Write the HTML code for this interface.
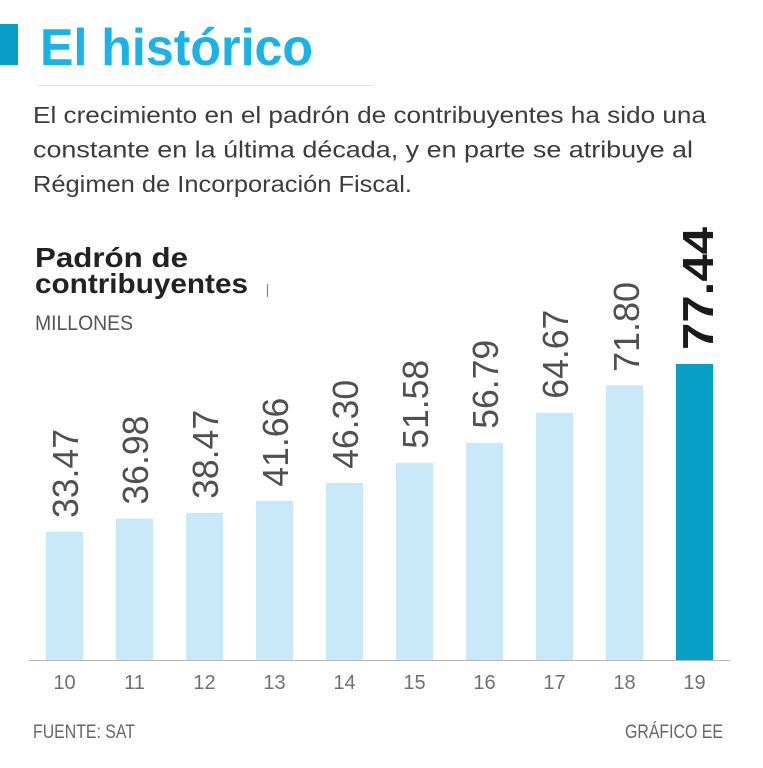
<!DOCTYPE html>
<html><head><meta charset="utf-8"><style>
html,body{margin:0;padding:0;background:#fff;}
svg{display:block;}
text{font-family:"Liberation Sans",sans-serif;}
</style></head><body>
<svg width="763" height="768" viewBox="0 0 763 768" xmlns="http://www.w3.org/2000/svg">
<rect x="0" y="0" width="763" height="768" fill="#fff"/>
<rect x="0" y="24" width="18" height="41" fill="#0a9ec6"/>
<text x="40" y="65" font-size="52" font-weight="bold" fill="#1bb2e8" textLength="273" lengthAdjust="spacingAndGlyphs">El histórico</text>
<line x1="38" y1="85.5" x2="373" y2="85.5" stroke="#cfeaf3" stroke-width="1"/>
<g fill="#3c3c3c" font-size="23">
<text x="33" y="123" textLength="673" lengthAdjust="spacingAndGlyphs">El crecimiento en el padrón de contribuyentes ha sido una</text>
<text x="33" y="157.5" textLength="660" lengthAdjust="spacingAndGlyphs">constante en la última década, y en parte se atribuye al</text>
<text x="33" y="192" textLength="379" lengthAdjust="spacingAndGlyphs">Régimen de Incorporación Fiscal.</text>
</g>
<text x="35" y="267" font-size="28" font-weight="bold" fill="#222" textLength="153" lengthAdjust="spacingAndGlyphs">Padrón de</text>
<text x="35" y="293" font-size="28" font-weight="bold" fill="#222" textLength="213" lengthAdjust="spacingAndGlyphs">contribuyentes</text>
<line x1="267.5" y1="284" x2="267.5" y2="297" stroke="#888" stroke-width="1.2"/>
<text x="35" y="330" font-size="21" fill="#555" textLength="98" lengthAdjust="spacingAndGlyphs">MILLONES</text>

<g fill="#c9e8f8">
<rect x="46" y="532" width="37" height="128"/>
<rect x="116" y="518.6" width="37" height="141.4"/>
<rect x="186" y="512.9" width="37" height="147.1"/>
<rect x="256" y="500.7" width="37" height="159.3"/>
<rect x="326" y="482.9" width="37" height="177.1"/>
<rect x="396" y="462.8" width="37" height="197.2"/>
<rect x="466" y="442.8" width="37" height="217.2"/>
<rect x="536" y="412.7" width="37" height="247.3"/>
<rect x="606" y="385.4" width="37" height="274.6"/>
</g>
<rect x="676" y="364" width="37" height="296" fill="#099ec5"/>
<line x1="29" y1="660.5" x2="730" y2="660.5" stroke="#b8b8b8" stroke-width="1"/>

<g fill="#505050" font-size="36">
<text transform="translate(78,518) rotate(-90)" textLength="89" lengthAdjust="spacingAndGlyphs">33.47</text>
<text transform="translate(148,504.6) rotate(-90)" textLength="89" lengthAdjust="spacingAndGlyphs">36.98</text>
<text transform="translate(218,498.9) rotate(-90)" textLength="89" lengthAdjust="spacingAndGlyphs">38.47</text>
<text transform="translate(288,486.7) rotate(-90)" textLength="89" lengthAdjust="spacingAndGlyphs">41.66</text>
<text transform="translate(358,468.9) rotate(-90)" textLength="89" lengthAdjust="spacingAndGlyphs">46.30</text>
<text transform="translate(428,448.8) rotate(-90)" textLength="89" lengthAdjust="spacingAndGlyphs">51.58</text>
<text transform="translate(498,428.8) rotate(-90)" textLength="89" lengthAdjust="spacingAndGlyphs">56.79</text>
<text transform="translate(568,398.7) rotate(-90)" textLength="89" lengthAdjust="spacingAndGlyphs">64.67</text>
<text transform="translate(639,372) rotate(-90)" textLength="90" lengthAdjust="spacingAndGlyphs">71.80</text>
</g>
<text transform="translate(713,350) rotate(-90)" font-size="44" font-weight="bold" fill="#1a1a1a" textLength="123" lengthAdjust="spacingAndGlyphs">77.44</text>

<g fill="#707070" font-size="20" text-anchor="middle">
<text x="64.5" y="689">10</text>
<text x="134.5" y="689">11</text>
<text x="204.5" y="689">12</text>
<text x="274.5" y="689">13</text>
<text x="344.5" y="689">14</text>
<text x="414.5" y="689">15</text>
<text x="484.5" y="689">16</text>
<text x="554.5" y="689">17</text>
<text x="624.5" y="689">18</text>
<text x="694.5" y="689">19</text>
</g>
<text x="33" y="738" font-size="19" fill="#666" textLength="102" lengthAdjust="spacingAndGlyphs">FUENTE: SAT</text>
<text x="625" y="738" font-size="19" fill="#666" textLength="98" lengthAdjust="spacingAndGlyphs">GRÁFICO EE</text>
</svg>
</body></html>
